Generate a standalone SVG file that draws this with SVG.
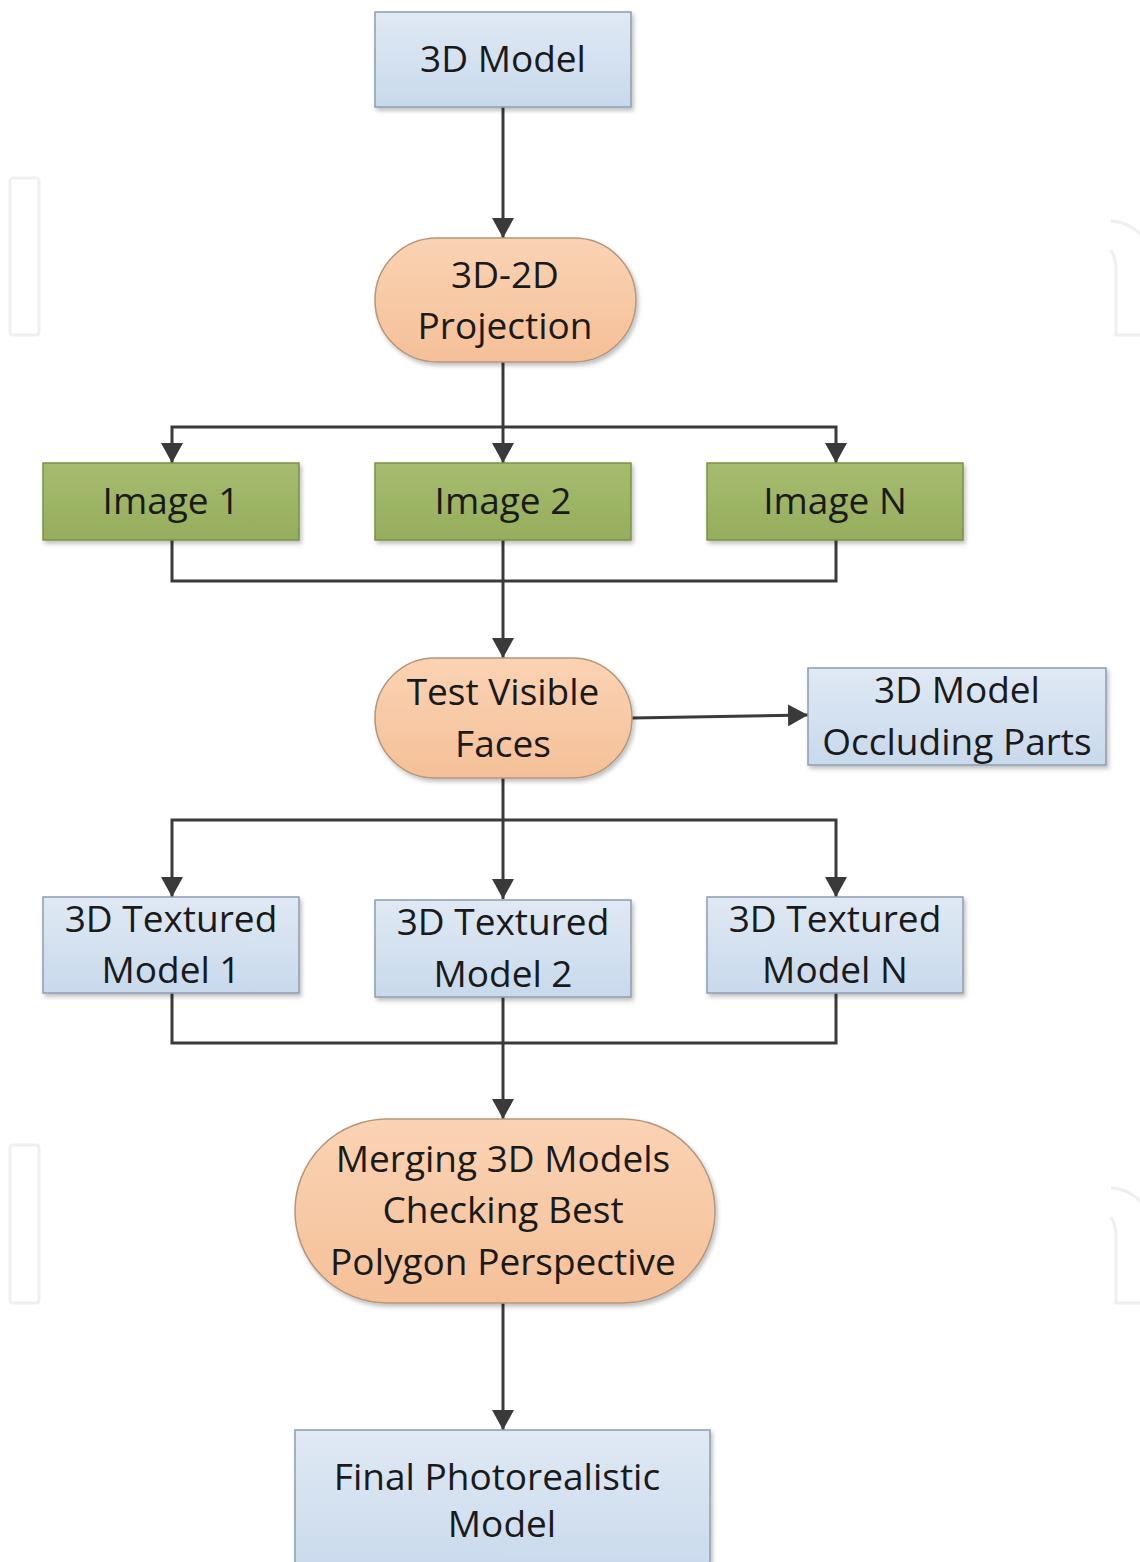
<svg xmlns="http://www.w3.org/2000/svg" width="1140" height="1562" viewBox="0 0 1140 1562">
<defs>
<linearGradient id="gBlue" x1="0" y1="0" x2="0" y2="1"><stop offset="0" stop-color="#e0e9f4"/><stop offset="1" stop-color="#c8d9ec"/></linearGradient>
<linearGradient id="gPeach" x1="0" y1="0" x2="0" y2="1"><stop offset="0" stop-color="#fad3b4"/><stop offset="1" stop-color="#f5c098"/></linearGradient>
<linearGradient id="gGreen" x1="0" y1="0" x2="0" y2="1"><stop offset="0" stop-color="#a6bc70"/><stop offset="1" stop-color="#95ad5c"/></linearGradient>
<filter id="sh" x="-10%" y="-10%" width="120%" height="130%"><feDropShadow dx="2" dy="3" stdDeviation="2" flood-color="#000" flood-opacity="0.25"/></filter>
<marker id="arr" viewBox="0 0 20 22" refX="20" refY="11" markerWidth="20" markerHeight="22" markerUnits="userSpaceOnUse" orient="auto"><path d="M0,0 L20,11 L0,22 z" fill="#3a3a3a"/></marker>
<style>
.blue{fill:url(#gBlue);stroke:#8c9db0;stroke-width:1.5;filter:url(#sh)}
.peach{fill:url(#gPeach);stroke:#b4977c;stroke-width:1.5;filter:url(#sh)}
.green{fill:url(#gGreen);stroke:#7a9344;stroke-width:1.5;filter:url(#sh)}
.t{font-family:"Open Sans","Noto Sans","Liberation Sans",sans-serif;font-size:37px;fill:#1a1a1a;text-anchor:middle}
.c{fill:none;stroke:#3a3a3a;stroke-width:3}
.ca{fill:none;stroke:#3a3a3a;stroke-width:3;marker-end:url(#arr)}
.wm{fill:none;stroke:#efefef;stroke-width:3}
</style>
</defs>
<rect width="1140" height="1562" fill="#ffffff"/>
<g id="watermark">
<rect class="wm" x="10" y="178" width="29" height="157" rx="3"/>
<path class="wm" d="M1111,221 Q1132,222 1145,240"/>
<path class="wm" d="M1111,250 Q1116,258 1116,270 V335 H1140"/>
<rect class="wm" x="10" y="1145" width="29" height="158" rx="3"/>
<path class="wm" d="M1111,1188 Q1132,1189 1145,1207"/>
<path class="wm" d="M1111,1217 Q1116,1225 1116,1237 V1303 H1140"/>
</g>
<g id="connectors">
<path class="ca" d="M503,107 V238"/>
<path class="ca" d="M503,362 V463"/>
<path class="ca" d="M503,427 H172 V463"/>
<path class="ca" d="M503,427 H836 V463"/>
<path class="c" d="M172,540 V581 H836 V540"/>
<path class="ca" d="M503,540 V658"/>
<path class="ca" d="M632,718 L808,715"/>
<path class="ca" d="M503,778 V899"/>
<path class="ca" d="M503,820 H172 V897"/>
<path class="ca" d="M503,820 H836 V897"/>
<path class="c" d="M172,993 V1043 H836 V993"/>
<path class="ca" d="M503,997 V1119"/>
<path class="ca" d="M503,1303 V1430"/>
</g>
<g id="n-model"><rect class="blue" x="375" y="12" width="256" height="95"/><text class="t" x="503" y="72">3D Model</text></g>
<g id="n-projection"><rect class="peach" x="375" y="238" width="261" height="124" rx="62"/><text class="t" x="505" y="288">3D-2D</text><text class="t" x="505" y="339">Projection</text></g>
<g id="n-image1"><rect class="green" x="43" y="463" width="256" height="77"/><text class="t" x="171" y="514">Image 1</text></g>
<g id="n-image2"><rect class="green" x="375" y="463" width="256" height="77"/><text class="t" x="503" y="514">Image 2</text></g>
<g id="n-imageN"><rect class="green" x="707" y="463" width="256" height="77"/><text class="t" x="835" y="514">Image N</text></g>
<g id="n-test"><rect class="peach" x="375" y="658" width="257" height="120" rx="60"/><text class="t" x="503" y="705">Test Visible</text><text class="t" x="503" y="757">Faces</text></g>
<g id="n-occluding"><rect class="blue" x="808" y="668" width="298" height="97"/><text class="t" x="957" y="703">3D Model</text><text class="t" x="957" y="755">Occluding Parts</text></g>
<g id="n-tex1"><rect class="blue" x="43" y="897" width="256" height="96"/><text class="t" x="171" y="932">3D Textured</text><text class="t" x="171" y="983">Model 1</text></g>
<g id="n-tex2"><rect class="blue" x="375" y="900" width="256" height="97"/><text class="t" x="503" y="935">3D Textured</text><text class="t" x="503" y="987">Model 2</text></g>
<g id="n-texN"><rect class="blue" x="707" y="897" width="256" height="96"/><text class="t" x="835" y="932">3D Textured</text><text class="t" x="835" y="983">Model N</text></g>
<g id="n-merging"><rect class="peach" x="295" y="1119" width="420" height="184" rx="92"/><text class="t" x="503" y="1172">Merging 3D Models</text><text class="t" x="503" y="1223">Checking Best</text><text class="t" x="503" y="1275">Polygon Perspective</text></g>
<g id="n-final"><rect class="blue" x="295" y="1430" width="415" height="150"/><text class="t" x="497" y="1490">Final Photorealistic</text><text class="t" x="502" y="1537">Model</text></g>
</svg>
